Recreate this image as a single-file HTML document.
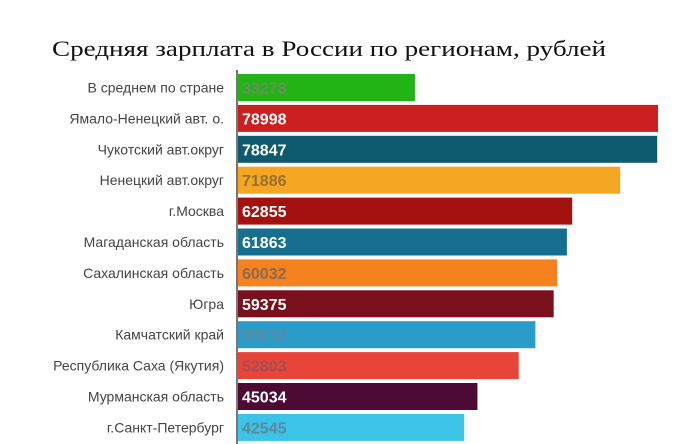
<!DOCTYPE html>
<html><head><meta charset="utf-8"><style>
body{margin:0;background:#fff;}
svg{display:block}
</style></head><body>
<svg id="chart" width="700" height="444" viewBox="0 0 700 444">
<rect width="700" height="444" fill="#fff"/>
<text x="52" y="56" font-family="Liberation Serif, serif" font-size="22" textLength="554" lengthAdjust="spacingAndGlyphs" fill="#111">Средняя зарплата в России по регионам, рублей</text>
<g id="bars"></g>
<line x1="237" y1="70" x2="237" y2="444" stroke="#777" stroke-width="2"/>
</svg>
<script>
const categories = ["В среднем по стране","Ямало-Ненецкий авт. о.","Чукотский авт.округ","Ненецкий авт.округ","г.Москва","Магаданская область","Сахалинская область","Югра","Камчатский край","Республика Саха (Якутия)","Мурманская область","г.Санкт-Петербург"];
const values = [33278,78998,78847,71886,62855,61863,60032,59375,55932,52803,45034,42545];
const colors = ["#22b415","#cc1f1f","#0e5a6e","#f5a623","#a3120e","#166f8f","#f5821f","#7a0f1e","#2a9cc9","#e9443a","#4d0a35","#3cc3e8"];
const labelColors = ["#6a8f60","#fff","#fff","#9a7030","#fff","#fff","#8a6a50","#fff","#5a8aa0","#a05050","#fff","#5a8a9a"];
const x0 = 238, pxPer = 420/78998, top0 = 74, step = 30.9, bh = 27;
const xs = v => x0 + v*pxPer;
const ys = i => top0 + i*step;
const g = document.getElementById('bars');
const ns = "http://www.w3.org/2000/svg";
categories.forEach((c,i)=>{
  const r = document.createElementNS(ns,'rect');
  
  
  r.setAttribute('x',x0); r.setAttribute('y',ys(i));
  r.setAttribute('width',xs(values[i])-x0); r.setAttribute('height',bh);
  r.setAttribute('fill',colors[i]);
  g.appendChild(r);
  const t = document.createElementNS(ns,'text');
  
  
  t.setAttribute('x',224); t.setAttribute('y',ys(i)+bh/2+5);
  t.setAttribute('text-anchor','end');
  t.setAttribute('font-family','Liberation Sans, sans-serif');
  t.setAttribute('font-size','14');
  t.setAttribute('fill','#444');
  t.textContent = c;
  g.appendChild(t);
  const v = document.createElementNS(ns,'text');
  
  
  v.setAttribute('x',242); v.setAttribute('y',ys(i)+bh/2+6);
  v.setAttribute('font-family','Liberation Sans, sans-serif');
  v.setAttribute('font-size','16');
  v.setAttribute('font-weight','bold');
  v.setAttribute('fill',labelColors[i]);
  v.textContent = values[i];
  g.appendChild(v);
});
</script>
</body></html>
